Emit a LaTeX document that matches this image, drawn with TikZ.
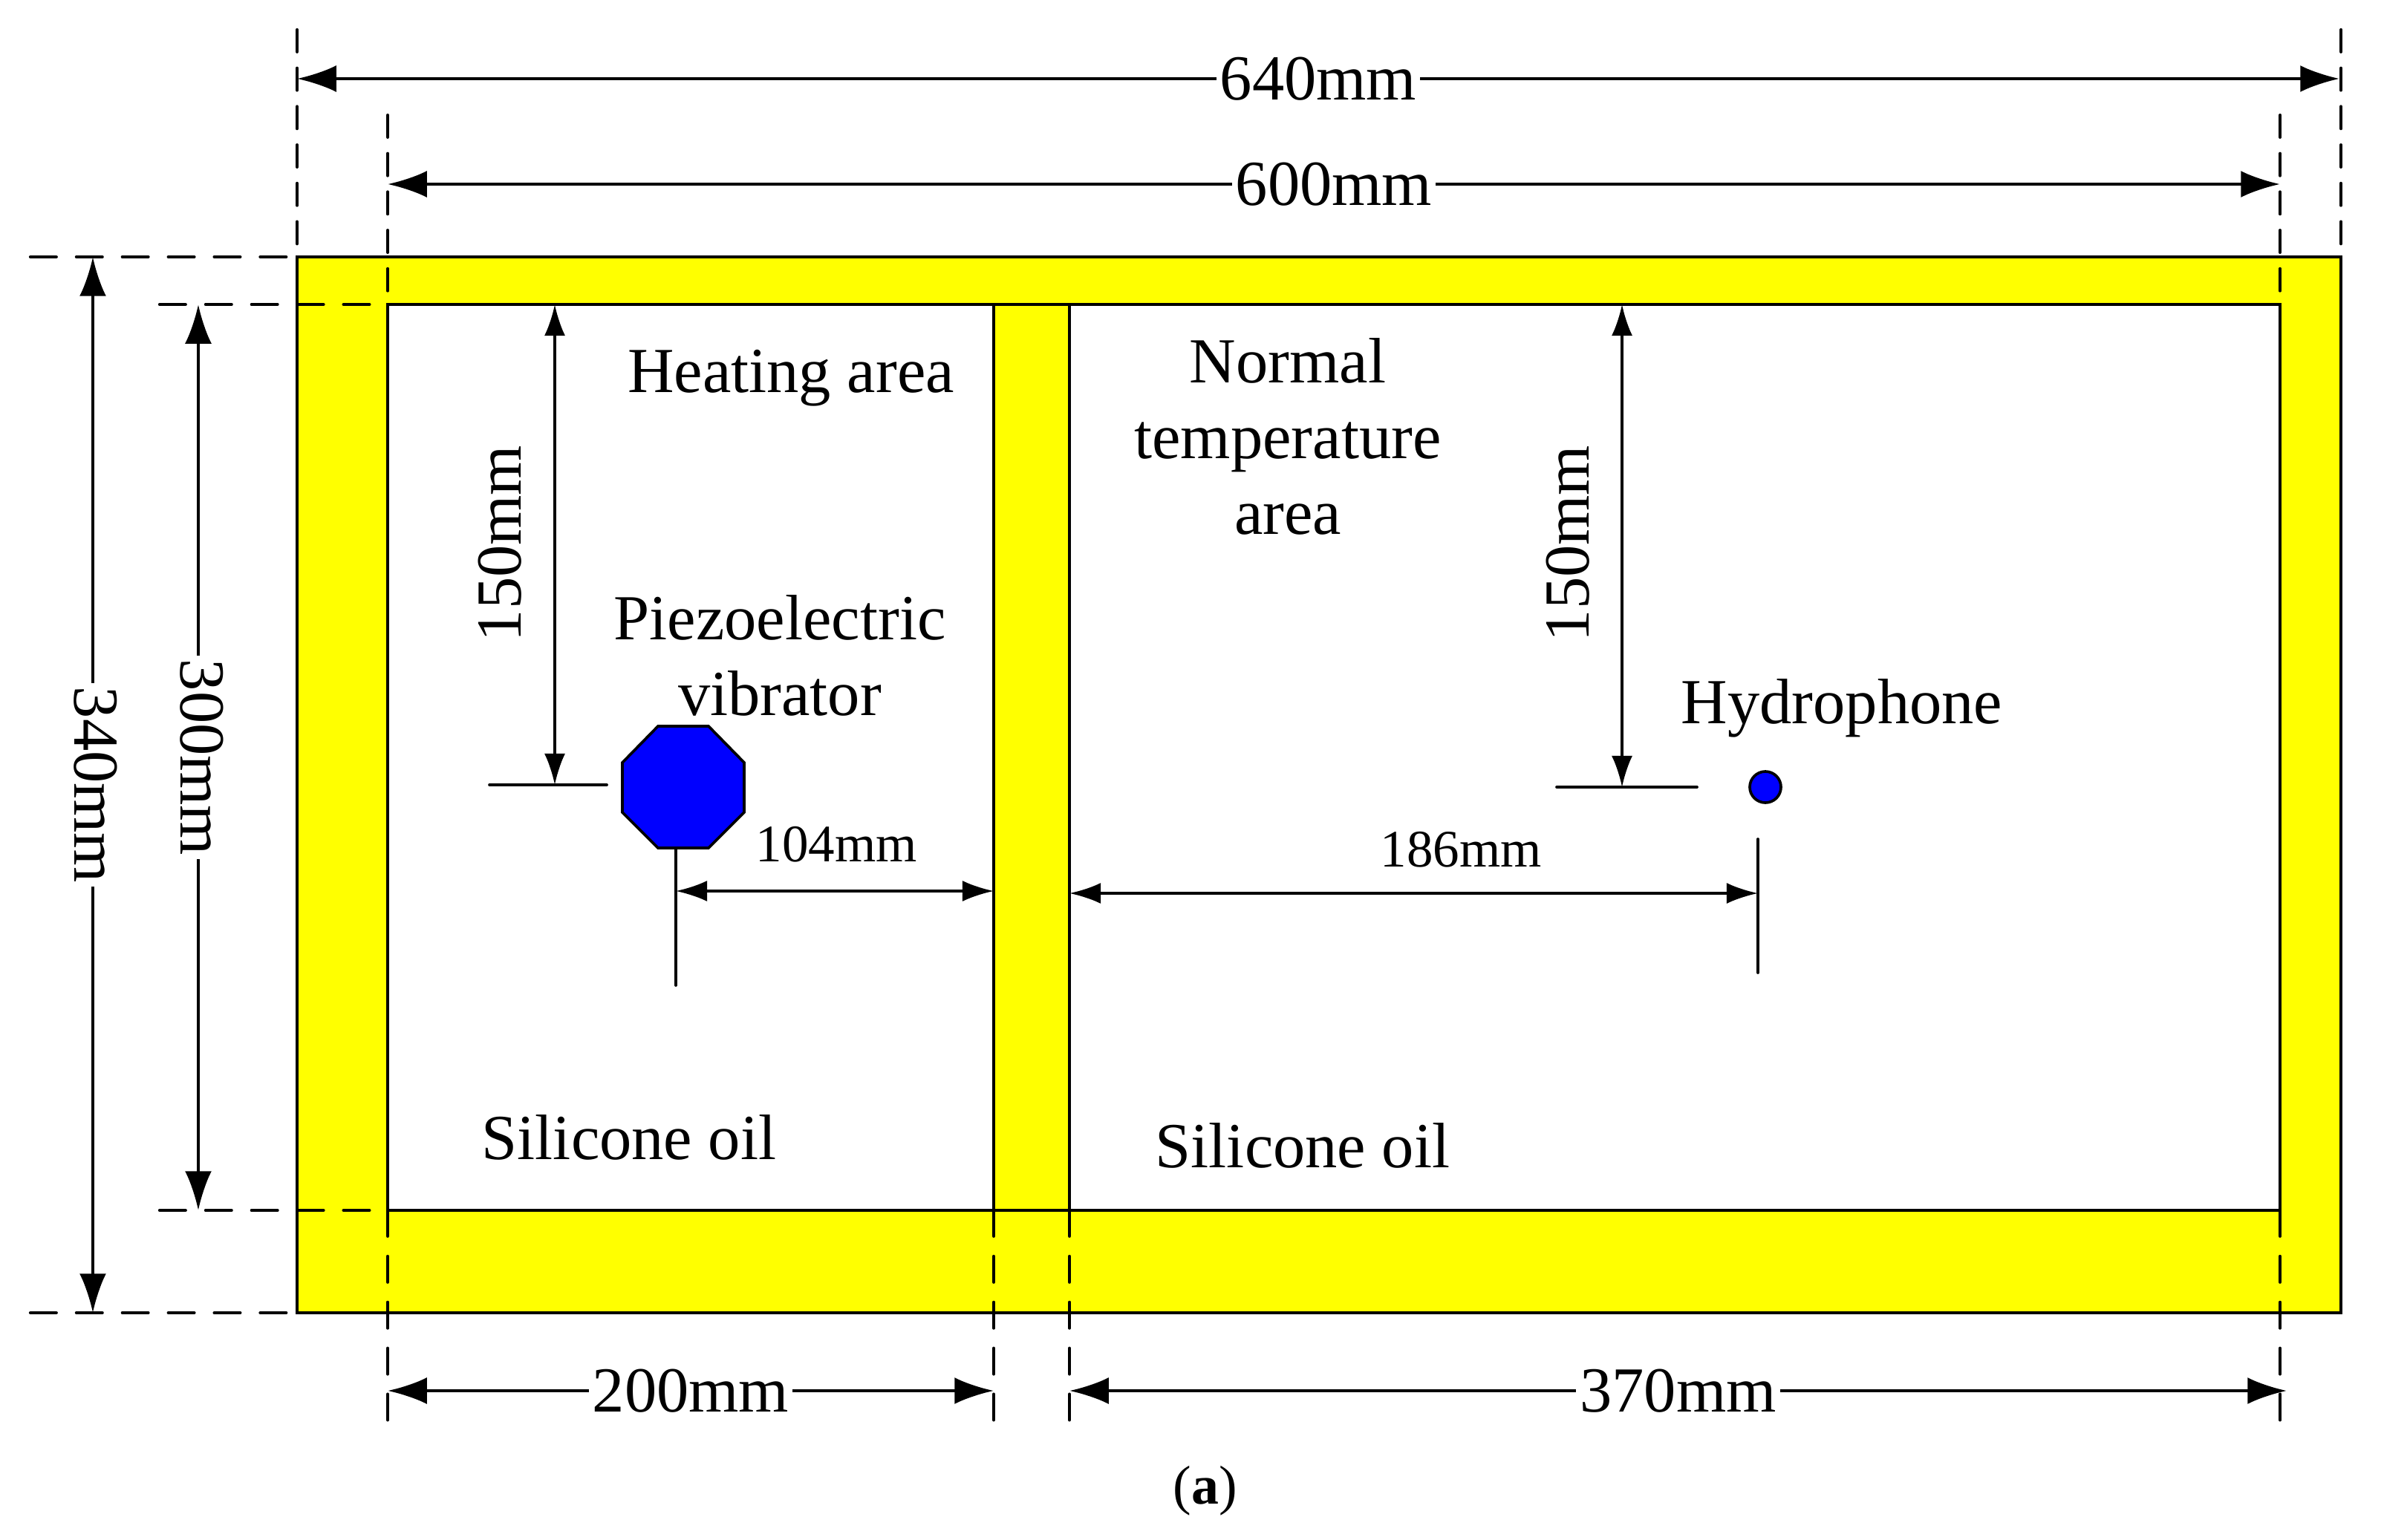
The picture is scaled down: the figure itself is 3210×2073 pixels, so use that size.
\documentclass[tikz,border=0pt]{standalone}
\usepackage{fontspec}
\setmainfont{Liberation Serif}
\usetikzlibrary{arrows.meta}

\definecolor{walls}{RGB}{255,255,0}
\definecolor{source}{RGB}{0,0,255}

\tikzset{
    lbl/.style={font=\fontsize{24.6}{29}\selectfont, align=center},
    lblsmall/.style={font=\fontsize{20.2}{24}\selectfont},
    dimlbl/.style={lbl, fill=white, inner sep=1.5pt},
    dimbig/.style={line width=1.25pt, <->, >={Latex[length=15pt,width=10.2pt]}},
    dimsmall/.style={line width=1.05pt, <->, >={Latex[length=12pt,width=8pt]}},
    dashv/.style={line width=1.15pt, line cap=round, dash pattern=on 8.5pt off 6.2pt},
    dashh/.style={line width=1.2pt, line cap=round, dash pattern=on 9.9pt off 7.7pt},
    tick/.style={line width=1.05pt, line cap=round},
    wall/.style={draw=black, line width=1.15pt, fill=walls},
    room/.style={draw=black, line width=1.15pt, fill=white},
}

\begin{document}
\begin{tikzpicture}[x=0.01cm, y=-0.01cm]
            \useasboundingbox (0,0) rectangle (3210,2073);

            % Tank
            \draw[wall] (400,346) rectangle (3152,1768);
            \draw[room] (522,410) rectangle (3070,1630);
            \draw[wall] (1338,410) rectangle (1440,1630);

            % Extension lines
            \draw[dashv] (400,40) -- (400,340);
            \draw[dashv] (3152,40) -- (3152,340);
            \draw[dashv] (522,155) -- (522,405);
            \draw[dashv] (3070,155) -- (3070,405);
            \foreach \xpos in {522,1338,1440,3070}
                \draw[dashh] (\xpos,1630) -- (\xpos,1916);
            \draw[dashh] (41,346) -- (393,346);
            \draw[dashh] (41,1768) -- (393,1768);
            \draw[dashh] (215,410) -- (510,410);
            \draw[dashh] (215,1630) -- (510,1630);

            % Sources
            \draw[line width=1.05pt, fill=source] (886,978) -- (954,978) -- (1002,1027) -- (1002,1094)
                -- (954,1142) -- (886,1142) -- (838,1094) -- (838,1027) -- cycle;
            \draw[line width=1.05pt, fill=source] (2377,1060) circle (21);

            % Ticks
            \draw[tick] (659,1057) -- (817,1057);
            \draw[tick] (2096,1060) -- (2285,1060);
            \draw[tick] (910,1142) -- (910,1327);
            \draw[tick] (2367,1130) -- (2367,1310);

            % Dimensions
            \draw[dimbig] (400,106) -- (3150,106) node[midway, dimlbl] (dimouter) {640mm};
            \draw[dimbig] (522,248) -- (3070,248) node[midway, dimlbl] (diminner) {600mm};
            \draw[dimbig] (125,346) -- (125,1768) node[midway, dimlbl, xshift=1pt, rotate=-90] (dimheight) {340mm};
            \draw[dimbig] (267,410) -- (267,1630) node[midway, dimlbl, xshift=1.5pt, rotate=-90] (dimdepth) {300mm};
            \draw[dimbig] (522,1873) -- (1338,1873) node[midway, dimlbl] (dimheat) {200mm};
            \draw[dimbig] (1440,1873) -- (3079,1873) node[midway, dimlbl] (dimnormal) {370mm};
            \draw[dimsmall] (747,410) -- (747,1057);
            \draw[dimsmall] (2184,410) -- (2184,1060);
            \draw[dimsmall] (910,1200) -- (1338,1200);
            \draw[dimsmall] (1440,1203) -- (2367,1203);

            \node[lbl, rotate=90] (depthleft) at (673,732) {150mm};
            \node[lbl, rotate=90] (depthright) at (2111,732) {150mm};
            \node[lblsmall, anchor=base] (gapleft) at (1126,1160) {104mm};
            \node[lblsmall, anchor=base] (gapright) at (1967,1167) {186mm};

            % Labels
            \node[lbl, anchor=base] (heating) at (1065,528) {Heating area};
            \node[lbl] (normal) at (1734,588) {Normal\\temperature\\area};
            \node[lbl] (piezo) at (1050,883) {Piezoelectric\\vibrator};
            \node[lbl, anchor=base] (hydro) at (2480,974) {Hydrophone};
            \node[lbl, anchor=base] (oilleft) at (847,1561) {Silicone oil};
            \node[lbl, anchor=base] (oilright) at (1754,1572) {Silicone oil};
            \node[anchor=base, font=\fontsize{21}{25}\selectfont] (caption) at (1623,2025) {(\textbf{a})};
        \end{tikzpicture}
\end{document}
